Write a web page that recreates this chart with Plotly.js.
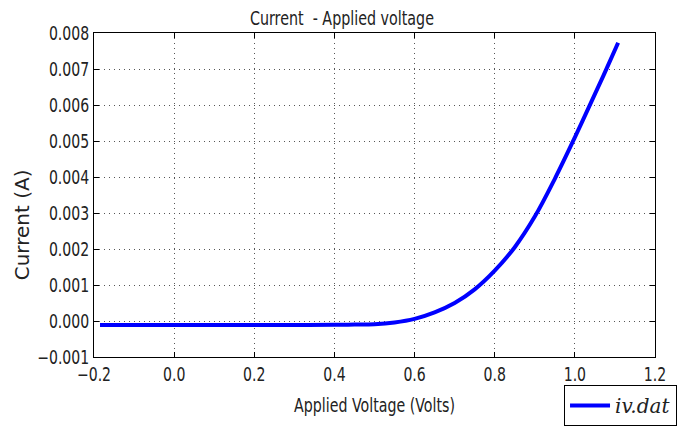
<!DOCTYPE html>
<html>
<head>
<meta charset="utf-8">
<script src="https://cdn.plot.ly/plotly-3.0.1.min.js"></script>
<style>
html,body{margin:0;padding:0;background:#fff;}
#chart{width:684px;height:430px;}
</style>
</head>
<body>
<div id="chart"></div>
<script>
// Applied voltage (V) and current (A)
const voltage = [-0.185, -0.1, 0.0, 0.1, 0.2, 0.3, 0.4, 0.45, 0.5, 0.55, 0.6, 0.65, 0.7, 0.75, 0.8, 0.85, 0.9, 0.95, 1.0, 1.05, 1.08, 1.108];
const current = [-0.00011, -0.00011, -0.00011, -0.00011, -0.00011, -0.00011, -0.000105, -0.0001, -0.00009, -0.00004, 0.00006, 0.00024, 0.0005, 0.00088, 0.0014, 0.00205, 0.0029, 0.00395, 0.0051, 0.0063, 0.00703, 0.00773];
const seriesName = 'iv.dat';
const xTicks = [-0.2, 0.0, 0.2, 0.4, 0.6, 0.8, 1.0, 1.2];
const yTicks = [-0.001, 0.000, 0.001, 0.002, 0.003, 0.004, 0.005, 0.006, 0.007, 0.008];

const sans = '"DejaVu Sans", sans-serif';

const trace = {
  x: voltage, y: current, name: seriesName, type: 'scatter', mode: 'lines',
  line: {color: '#0000ff', width: 4, shape: 'spline', smoothing: 1}
};

const axisCommon = {
  showline: true, linecolor: '#000', linewidth: 1, mirror: 'ticks',
  ticks: 'inside', ticklen: 5, tickwidth: 1, tickcolor: '#000',
  showgrid: true, gridcolor: '#555', gridwidth: 1, griddash: '1px,4px',
  zeroline: false,
  tickfont: {family: sans, size: 19, color: '#222'}
};

const layout = {
  width: 684, height: 430,
  margin: {l: 94, r: 29, t: 33, b: 73, pad: 0, autoexpand: false},
  paper_bgcolor: '#fff', plot_bgcolor: '#fff',
  title: {text: 'Current\u00a0 - Applied voltage', font: {family: sans, size: 19, color: '#222'},
          x: 0.442, xref: 'paper', xanchor: 'center', y: 0.958, yref: 'container', yanchor: 'middle'},
  xaxis: Object.assign({}, axisCommon, {
    range: [-0.2, 1.2], tickvals: xTicks, tickformat: '.1f',
    title: {text: 'Applied Voltage (Volts)', font: {family: sans, size: 19, color: '#222'}, standoff: 14}
  }),
  yaxis: Object.assign({}, axisCommon, {
    range: [-0.001, 0.008], tickvals: yTicks, tickformat: '.3f'
  }),
  showlegend: true,
  legend: {
    xref: 'container', yref: 'container',
    x: 0.8246, xanchor: 'left', y: 0.1047, yanchor: 'top',
    bordercolor: '#000', borderwidth: 1, bgcolor: '#fff', itemwidth: 40,
    font: {family: '"DejaVu Serif", "Liberation Serif", serif', size: 20, style: 'italic', color: '#222'}
  },
  annotations: [{
    text: 'Current (A)', textangle: -90, showarrow: false,
    xref: 'paper', yref: 'paper', x: -0.128, y: 0.407, xanchor: 'center', yanchor: 'middle',
    font: {family: sans, size: 20, color: '#222'}
  }]
};

Plotly.newPlot('chart', [trace], layout, {displayModeBar: false, staticPlot: true}).then(function (gd) {
  // the reference uses horizontally condensed lettering: compress glyph widths
  function squeeze(t, target) {
    t.setAttribute('lengthAdjust', 'spacingAndGlyphs');
    t.setAttribute('textLength', target.toFixed(1));
  }
  gd.querySelectorAll('g.xtick text, g.ytick text').forEach(function (t) {
    squeeze(t, t.getComputedTextLength() * 0.74);
  });
  gd.querySelectorAll('text.gtitle').forEach(function (t) { squeeze(t, 184); });
  gd.querySelectorAll('text.xtitle').forEach(function (t) { squeeze(t, 161); });
});
</script>
</body>
</html>
